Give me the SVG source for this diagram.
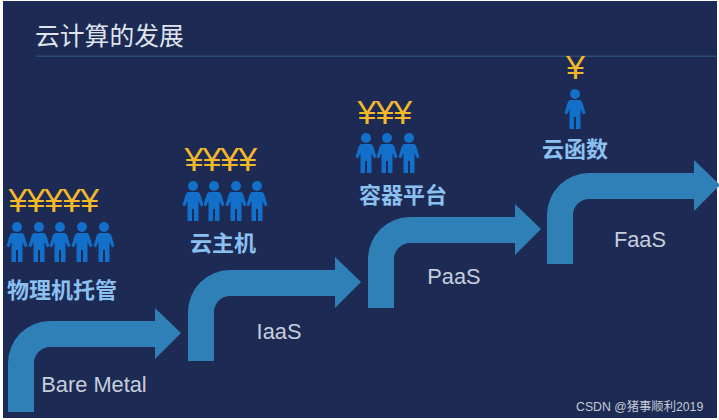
<svg xmlns="http://www.w3.org/2000/svg" width="719" height="420" viewBox="0 0 719 420">
<style>
.title{font:24.800px "Liberation Sans","Noto Sans CJK SC",sans-serif;fill:#dfe3ec}
.yen{font:34px "Liberation Sans",sans-serif;fill:#f4b92a;letter-spacing:-1px}
.cn{font:bold 22px "Noto Sans CJK SC",sans-serif;fill:#8cc0f0;text-anchor:middle}
.en{font:21.800px "Liberation Sans",sans-serif;fill:#c6cedc;text-anchor:middle}
.foot{font:12.300px "Liberation Sans","Noto Sans CJK SC",sans-serif;fill:#c6cad4}
.arrow{fill:#2f80b6}
.person{fill:#1270ca}
</style>
<defs>
<path id="arrowShape" d="M0 91V42A42 42 0 0 1 42 0H147V-13L173 12L147 38V26H42A16 16 0 0 0 26 42V91Z"/>
<g id="personShape">
<circle cx="0" cy="5" r="5"/>
<path d="M-4.500 11H4.500Q6.500 11 7.500 14L10.500 24L8 25.500L5.500 20V40H1V28H-1V40H-5.500V20L-8 25.500L-10.500 24L-7.500 14Q-6.500 11 -4.500 11Z"/>
</g>
</defs>
<rect width="719" height="420" fill="#ffffff"/>
<rect x="3" y="1" width="714" height="417" fill="#1c2a54"/>
<g id="header">
<text class="title" x="35" y="45">云计算的发展</text>
<rect x="36" y="55.500" width="681" height="1.500" fill="#2a4a78"/>
</g>
<g id="connectors">
<use href="#arrowShape" class="arrow" x="8" y="321"/>
<use href="#arrowShape" class="arrow" x="188" y="270"/>
<use href="#arrowShape" class="arrow" x="368" y="217"/>
<use href="#arrowShape" class="arrow" x="547" y="173"/>
</g>
<g id="bare-metal">
<text class="yen" x="8.500" y="212">¥¥¥¥¥</text>
<g class="person"><use href="#personShape" x="17" y="222"/><use href="#personShape" x="39" y="222"/><use href="#personShape" x="60" y="222"/><use href="#personShape" x="82" y="222"/><use href="#personShape" x="104" y="222"/></g>
<text class="cn" x="62" y="298">物理机托管</text>
<text class="en" x="94" y="392">Bare Metal</text>
</g>
<g id="iaas">
<text class="yen" x="184.500" y="171">¥¥¥¥</text>
<g class="person"><use href="#personShape" x="193" y="181"/><use href="#personShape" x="214" y="181"/><use href="#personShape" x="236" y="181"/><use href="#personShape" x="257" y="181"/></g>
<text class="cn" x="223" y="251">云主机</text>
<text class="en" x="279" y="339">IaaS</text>
</g>
<g id="paas">
<text class="yen" x="357.500" y="124">¥¥¥</text>
<g class="person"><use href="#personShape" x="366" y="133"/><use href="#personShape" x="387" y="133"/><use href="#personShape" x="409" y="133"/></g>
<text class="cn" x="403" y="203">容器平台</text>
<text class="en" x="454" y="284">PaaS</text>
</g>
<g id="faas">
<text class="yen" x="566" y="79">¥</text>
<g class="person"><use href="#personShape" x="575" y="89"/></g>
<text class="cn" x="575" y="157">云函数</text>
<text class="en" x="640" y="247">FaaS</text>
</g>
<text class="foot" x="576" y="411">CSDN @猪事顺利2019</text>
</svg>
